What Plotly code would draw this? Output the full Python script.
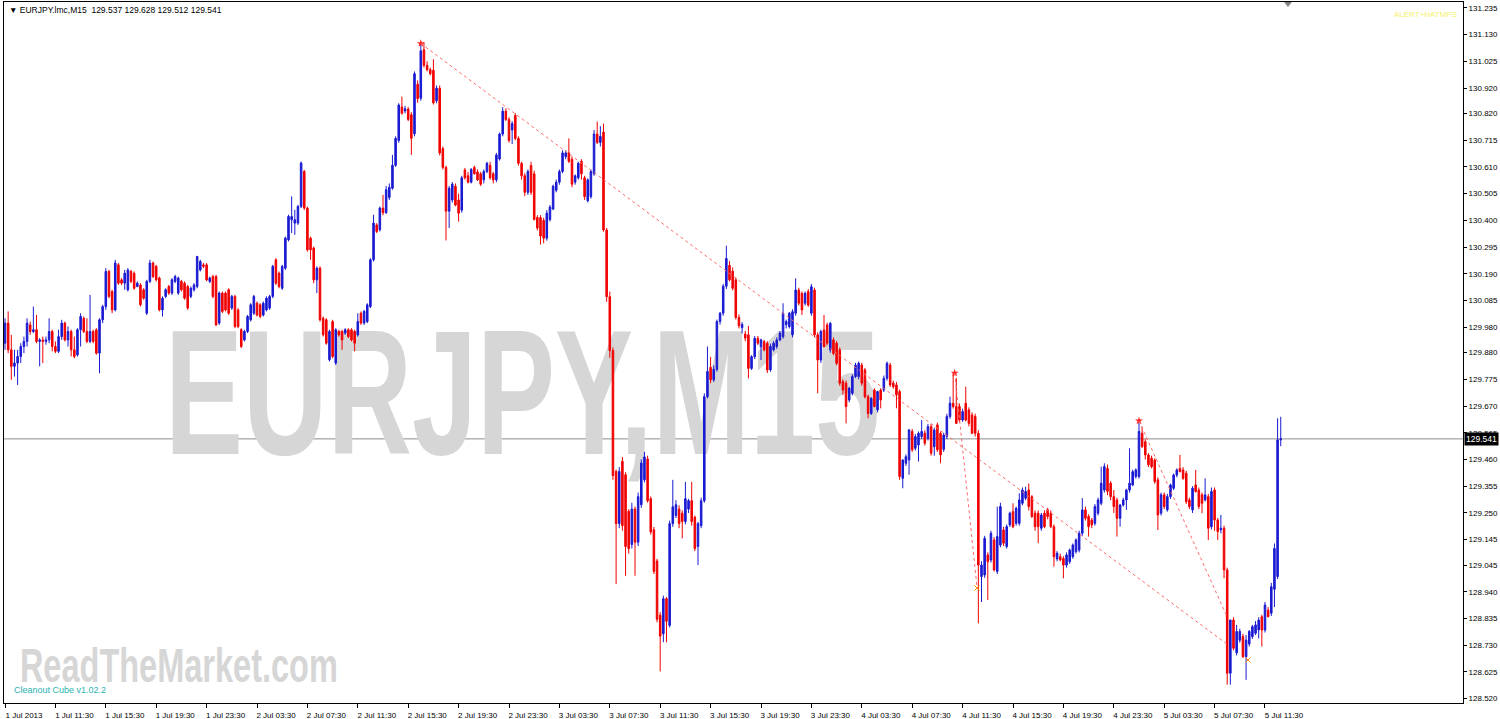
import plotly.graph_objects as go

# ---------------- data (EURJPY M15, bars from 1 Jul 2013 07:30) ----------------
bar_open = [
 129.917,129.996,129.891,129.826,129.839,129.865,129.904,129.924,129.989,129.963,
 129.970,129.924,129.930,129.924,129.930,129.963,129.904,129.885,129.943,129.996,
 129.930,129.963,129.891,129.871,129.970,130.015,129.963,129.924,129.963,129.970,
 129.878,130.009,130.061,130.199,130.120,130.048,130.225,130.166,130.153,130.127,
 130.199,130.192,130.140,130.146,130.127,130.035,130.160,130.232,130.219,130.173,
 130.048,130.101,130.140,130.114,130.160,130.114,130.160,130.153,130.140,130.101,
 130.127,130.140,130.205,130.225,130.225,130.160,130.179,130.179,129.996,130.114,
 130.114,130.127,130.055,130.101,130.048,129.970,129.930,129.963,130.009,130.035,
 130.074,130.068,130.028,130.048,130.055,130.101,130.245,130.192,130.133,130.212,
 130.323,130.402,130.389,130.389,130.454,130.592,130.448,130.330,130.291,130.166,
 130.212,130.015,130.009,129.852,130.002,129.839,129.963,129.963,129.957,129.970,
 129.970,129.963,129.950,130.035,129.996,130.002,130.061,130.245,130.382,130.363,
 130.448,130.430,130.490,130.526,130.616,130.714,130.845,130.830,130.837,130.815,
 130.740,130.935,130.880,131.070,131.009,130.992,130.990,130.870,130.919,130.682,
 130.608,130.436,130.480,130.534,130.480,130.440,130.598,130.575,130.550,130.608,
 130.590,130.583,130.559,130.592,130.616,130.583,130.559,130.641,130.739,130.829,
 130.796,130.755,130.812,130.722,130.624,130.575,130.510,130.615,130.583,130.411,
 130.411,130.400,130.330,130.403,130.444,130.518,130.550,130.592,130.650,130.665,
 130.640,130.550,130.567,130.632,130.567,130.477,130.493,130.583,130.739,130.706,
 130.747,130.362,130.100,129.888,129.413,129.208,129.453,129.400,129.257,129.126,
 129.265,129.135,129.282,129.380,129.462,129.306,129.184,129.061,128.848,128.775,
 128.913,128.808,129.208,129.240,129.265,129.249,129.216,129.265,129.298,129.233,
 129.118,129.200,129.298,129.707,129.822,129.773,129.814,130.002,130.035,130.141,
 130.223,130.200,130.166,130.018,129.978,129.953,129.950,129.818,129.864,129.936,
 129.903,129.923,129.917,129.812,129.891,129.904,129.930,129.943,129.990,129.982,
 129.950,130.035,130.126,130.113,130.074,130.120,130.035,130.126,129.950,129.851,
 129.969,129.989,129.891,129.930,129.917,129.891,129.766,129.760,129.694,129.720,
 129.786,129.786,129.831,129.812,129.707,129.641,129.733,129.655,129.733,129.733,
 129.779,129.831,129.760,129.753,129.727,129.386,129.445,129.458,129.570,129.504,
 129.517,129.550,129.563,129.543,129.589,129.510,129.596,129.563,129.500,129.550,
 129.629,129.681,129.668,129.668,129.615,129.681,129.655,129.635,129.629,129.563,
 129.000,129.006,129.085,129.065,129.144,129.020,129.124,129.183,129.118,129.203,
 129.255,129.209,129.209,129.288,129.308,129.340,129.314,129.249,129.249,129.190,
 129.249,129.262,129.249,129.196,129.069,129.078,129.071,129.045,129.058,129.078,
 129.098,129.104,129.170,129.262,129.236,129.222,129.209,129.249,129.288,129.340,
 129.425,129.367,129.314,129.301,129.229,129.281,129.301,129.340,129.360,129.393,
 129.393,129.563,129.530,129.478,129.465,129.458,129.380,129.249,129.321,129.262,
 129.314,129.347,129.399,129.425,129.419,129.406,129.301,129.262,129.360,129.340,
 129.321,129.301,129.314,129.196,129.340,129.222,129.184,129.190,129.026,128.620,
 128.829,128.700,128.750,128.764,128.685,128.735,128.764,128.777,128.790,128.842,
 128.790,128.868,128.856,128.950,129.000,129.537]

bar_high = [
 130.015,130.042,129.950,129.891,129.891,129.917,129.943,130.015,130.002,130.061,
 130.028,129.937,129.943,129.943,130.015,129.970,129.924,129.970,130.009,130.002,
 129.983,129.970,129.943,129.976,130.035,130.022,130.015,130.107,129.970,129.976,
 130.015,130.068,130.212,130.205,130.127,130.245,130.232,130.173,130.205,130.212,
 130.205,130.199,130.160,130.153,130.133,130.166,130.245,130.238,130.225,130.179,
 130.101,130.133,130.146,130.173,130.186,130.179,130.166,130.160,130.146,130.140,
 130.153,130.260,130.245,130.232,130.232,130.179,130.186,130.186,130.120,130.120,
 130.120,130.133,130.107,130.107,130.055,129.976,129.970,130.028,130.074,130.107,
 130.081,130.074,130.081,130.101,130.107,130.225,130.251,130.199,130.225,130.336,
 130.422,130.494,130.441,130.461,130.631,130.598,130.454,130.336,130.297,130.219,
 130.219,130.022,130.015,129.970,130.009,129.976,129.970,129.970,129.976,129.976,
 129.976,129.970,130.035,130.042,130.048,130.074,130.251,130.422,130.389,130.454,
 130.500,130.535,130.545,130.657,130.730,130.860,130.886,130.850,130.845,130.825,
 130.985,130.950,131.095,131.100,131.025,131.000,131.033,130.930,130.930,130.690,
 130.615,130.535,130.550,130.545,130.505,130.575,130.606,130.590,130.605,130.615,
 130.600,130.590,130.600,130.630,130.630,130.590,130.665,130.745,130.845,130.840,
 130.805,130.790,130.821,130.730,130.630,130.585,130.600,130.630,130.595,130.420,
 130.420,130.410,130.440,130.460,130.540,130.560,130.600,130.675,130.675,130.722,
 130.650,130.580,130.630,130.640,130.575,130.565,130.600,130.755,130.788,130.770,
 130.780,130.370,130.120,129.900,129.420,129.430,129.470,129.410,129.265,129.290,
 129.275,129.330,129.460,129.490,129.475,129.315,129.195,129.070,128.860,128.925,
 128.920,129.220,129.380,129.300,129.280,129.260,129.372,129.305,129.372,129.240,
 129.215,129.310,129.720,129.904,129.863,129.830,130.010,130.040,130.150,130.300,
 130.240,130.215,130.175,130.030,130.000,129.965,129.985,129.870,129.945,129.945,
 129.935,129.930,129.925,129.915,129.925,129.940,129.965,130.074,130.010,130.040,
 130.050,130.172,130.135,130.120,130.120,130.130,130.150,130.135,129.960,129.970,
 130.028,129.998,130.000,129.940,129.925,129.900,129.775,129.770,129.745,129.795,
 129.840,129.845,129.840,129.820,129.715,129.705,129.740,129.730,129.740,129.790,
 129.845,129.840,129.770,129.765,129.735,129.460,129.480,129.580,129.580,129.560,
 129.570,129.615,129.575,129.600,129.600,129.585,129.605,129.570,129.565,129.640,
 129.707,129.800,129.780,129.680,129.660,129.746,129.665,129.645,129.640,129.575,
 129.060,129.160,129.095,129.180,129.155,129.275,129.290,129.195,129.205,129.255,
 129.288,129.275,129.327,129.350,129.353,129.366,129.320,129.260,129.260,129.250,
 129.260,129.270,129.260,129.205,129.100,129.090,129.080,129.095,129.110,129.130,
 129.150,129.180,129.308,129.275,129.245,129.230,129.285,129.310,129.432,129.445,
 129.440,129.375,129.340,129.310,129.285,129.310,129.345,129.504,129.420,129.425,
 129.610,129.589,129.540,129.485,129.475,129.465,129.390,129.330,129.330,129.325,
 129.365,129.405,129.425,129.478,129.430,129.415,129.310,129.355,129.419,129.350,
 129.330,129.386,129.325,129.350,129.350,129.230,129.242,129.200,129.035,128.830,
 128.840,128.810,128.795,128.775,128.770,128.790,128.810,128.825,128.840,128.850,
 128.900,128.880,128.975,129.130,129.622,129.628]

bar_low = [
 129.891,129.878,129.773,129.786,129.753,129.839,129.878,129.904,129.950,129.957,
 129.917,129.826,129.839,129.911,129.917,129.885,129.878,129.878,129.930,129.924,
 129.904,129.865,129.858,129.865,129.904,129.957,129.917,129.917,129.917,129.872,
 129.799,129.996,130.048,130.094,130.035,130.042,130.146,130.146,130.127,130.120,
 130.153,130.127,130.137,130.061,130.088,130.028,130.153,130.173,130.160,130.042,
 130.022,130.094,130.107,130.107,130.153,130.107,130.120,130.088,130.048,130.094,
 130.120,130.133,130.199,130.212,130.160,130.153,130.094,129.985,129.989,130.035,
 130.042,130.028,130.048,129.976,129.976,129.898,129.924,129.957,130.002,130.028,
 130.022,130.015,130.022,130.042,130.048,130.094,130.146,130.133,130.127,130.205,
 130.317,130.350,130.343,130.382,130.448,130.441,130.277,130.245,130.153,130.114,
 130.002,129.943,129.911,129.845,129.858,129.832,129.943,129.891,129.950,129.937,
 129.924,129.885,129.943,129.989,129.989,129.996,130.055,130.238,130.350,130.356,
 130.420,130.425,130.480,130.520,130.610,130.705,130.815,130.820,130.790,130.657,
 130.730,130.862,130.870,131.000,130.985,130.970,130.855,130.860,130.655,130.600,
 130.321,130.370,130.470,130.455,130.395,130.430,130.560,130.545,130.545,130.580,
 130.555,130.535,130.545,130.585,130.560,130.545,130.550,130.635,130.730,130.790,
 130.705,130.700,130.715,130.615,130.560,130.495,130.500,130.500,130.400,130.360,
 130.305,130.310,130.320,130.395,130.440,130.510,130.540,130.585,130.640,130.625,
 130.530,130.540,130.560,130.560,130.480,130.470,130.485,130.575,130.700,130.690,
 130.355,130.080,129.860,129.380,128.970,129.190,129.180,129.003,129.090,129.110,
 129.003,129.120,129.270,129.370,129.290,129.165,129.010,128.820,128.627,128.742,
 128.742,128.800,129.195,129.230,129.190,129.150,129.205,129.250,129.200,129.100,
 129.045,129.190,129.290,129.700,129.760,129.765,129.805,129.990,130.025,130.130,
 130.160,130.125,130.010,129.975,129.955,129.925,129.779,129.812,129.855,129.910,
 129.851,129.885,129.800,129.805,129.885,129.895,129.925,129.935,129.975,129.975,
 129.940,130.025,130.065,130.028,130.065,130.060,130.025,129.940,129.720,129.840,
 129.900,129.910,129.880,129.870,129.830,129.750,129.714,129.602,129.685,129.712,
 129.780,129.775,129.750,129.700,129.622,129.635,129.665,129.645,129.661,129.725,
 129.770,129.745,129.738,129.661,129.380,129.347,129.435,129.400,129.490,129.495,
 129.452,129.540,129.515,129.535,129.475,129.475,129.490,129.445,129.490,129.540,
 129.620,129.660,129.600,129.605,129.608,129.610,129.590,129.560,129.550,128.816,
 128.900,128.995,128.908,129.055,129.020,129.010,129.115,129.120,129.110,129.195,
 129.190,129.200,129.200,129.280,129.300,129.260,129.230,129.180,129.131,129.180,
 129.190,129.225,129.190,129.039,129.060,129.060,128.993,129.035,129.050,129.070,
 129.090,129.095,129.160,129.220,129.157,129.190,129.200,129.240,129.280,129.330,
 129.320,129.300,129.250,129.157,129.196,129.275,129.262,129.330,129.355,129.385,
 129.385,129.505,129.460,129.430,129.425,129.365,129.183,129.240,129.265,129.255,
 129.305,129.340,129.390,129.410,129.380,129.285,129.265,129.250,129.330,129.265,
 129.249,129.295,129.144,129.185,129.180,129.144,129.170,128.993,128.575,128.575,
 128.710,128.690,128.740,128.680,128.594,128.725,128.755,128.770,128.757,128.725,
 128.780,128.840,128.845,128.880,128.990,129.512]

bar_close = [
 129.996,129.891,129.826,129.839,129.865,129.904,129.924,129.996,129.963,129.970,
 129.924,129.930,129.924,129.930,129.963,129.904,129.885,129.943,129.996,129.930,
 129.963,129.891,129.865,129.970,130.022,129.963,129.924,129.963,129.924,129.878,
 130.009,130.061,130.199,130.101,130.048,130.232,130.153,130.153,130.192,130.205,
 130.160,130.133,130.153,130.068,130.094,130.160,130.232,130.179,130.166,130.048,
 130.094,130.127,130.114,130.166,130.179,130.173,130.127,130.094,130.055,130.133,
 130.146,130.258,130.238,130.219,130.166,130.173,130.101,129.989,130.114,130.042,
 130.048,130.035,130.101,129.983,129.983,129.904,129.963,130.022,130.068,130.101,
 130.028,130.022,130.074,130.094,130.101,130.219,130.153,130.140,130.219,130.330,
 130.415,130.415,130.402,130.454,130.625,130.448,130.284,130.284,130.166,130.212,
 130.009,129.950,129.917,129.963,129.865,129.970,129.950,129.930,129.970,129.943,
 129.930,129.917,130.002,129.996,130.042,130.068,130.245,130.389,130.356,130.448,
 130.430,130.520,130.530,130.616,130.722,130.853,130.821,130.838,130.796,130.722,
 130.976,130.878,131.066,131.009,130.992,130.976,130.862,130.919,130.665,130.608,
 130.436,130.526,130.542,130.460,130.428,130.567,130.567,130.550,130.600,130.583,
 130.559,130.542,130.592,130.624,130.567,130.559,130.657,130.739,130.829,130.796,
 130.714,130.780,130.722,130.624,130.575,130.510,130.592,130.510,130.403,130.370,
 130.338,130.330,130.428,130.452,130.534,130.550,130.592,130.665,130.665,130.632,
 130.542,130.575,130.624,130.583,130.493,130.559,130.592,130.739,130.706,130.730,
 130.362,130.100,129.888,129.397,129.208,129.413,129.200,129.118,129.110,129.265,
 129.135,129.314,129.446,129.470,129.298,129.175,129.020,128.832,128.766,128.913,
 128.824,129.208,129.274,129.282,129.208,129.216,129.306,129.298,129.216,129.110,
 129.208,129.298,129.707,129.806,129.773,129.814,130.002,130.035,130.141,130.250,
 130.166,130.133,130.018,129.986,129.991,129.937,129.818,129.864,129.936,129.917,
 129.930,129.891,129.812,129.904,129.917,129.930,129.956,130.035,130.002,130.035,
 130.041,130.126,130.074,130.048,130.113,130.067,130.139,129.950,129.851,129.963,
 129.904,129.917,129.995,129.877,129.838,129.760,129.733,129.668,129.740,129.786,
 129.831,129.838,129.760,129.707,129.641,129.700,129.668,129.727,129.694,129.779,
 129.838,129.753,129.746,129.714,129.393,129.458,129.471,129.576,129.498,129.550,
 129.563,129.570,129.524,129.589,129.485,129.576,129.498,129.478,129.556,129.629,
 129.681,129.668,129.602,129.615,129.648,129.615,129.602,129.563,129.563,129.045,
 129.045,129.150,129.058,129.170,129.026,129.157,129.275,129.131,129.196,129.249,
 129.196,129.268,129.301,129.340,129.334,129.275,129.236,129.196,129.196,129.242,
 129.196,129.236,129.196,129.078,129.092,129.065,129.045,129.085,129.104,129.124,
 129.144,129.170,129.262,129.229,129.196,129.203,129.275,129.301,129.367,129.432,
 129.335,129.314,129.275,129.229,129.281,129.301,129.340,129.367,129.412,129.419,
 129.570,129.511,129.478,129.439,129.432,129.373,129.242,129.321,129.275,129.314,
 129.360,129.399,129.419,129.412,129.386,129.294,129.275,129.347,129.334,129.275,
 129.288,129.321,129.190,129.334,129.222,129.177,129.190,129.026,128.620,128.829,
 128.718,128.784,128.784,128.685,128.750,128.784,128.803,128.810,128.829,128.790,
 128.888,128.842,128.960,129.110,129.537,129.541]

assert len(bar_open) == len(bar_high) == len(bar_low) == len(bar_close), (
    len(bar_open), len(bar_high), len(bar_low), len(bar_close))

# x-axis labels every 16 bars (4 hours)
time_labels = [
 "1 Jul 2013", "1 Jul 11:30", "1 Jul 15:30", "1 Jul 19:30", "1 Jul 23:30",
 "2 Jul 03:30", "2 Jul 07:30", "2 Jul 11:30", "2 Jul 15:30", "2 Jul 19:30",
 "2 Jul 23:30", "3 Jul 03:30", "3 Jul 07:30", "3 Jul 11:30", "3 Jul 15:30",
 "3 Jul 19:30", "3 Jul 23:30", "4 Jul 03:30", "4 Jul 07:30", "4 Jul 11:30",
 "4 Jul 15:30", "4 Jul 19:30", "4 Jul 23:30", "5 Jul 03:30", "5 Jul 07:30",
 "5 Jul 11:30"]
bars_per_label = 16

price_ticks = [131.235, 131.130, 131.025, 130.920, 130.820, 130.715, 130.610,
               130.505, 130.400, 130.295, 130.190, 130.085, 129.980, 129.880,
               129.775, 129.670, 129.565, 129.460, 129.355, 129.250, 129.145,
               129.045, 128.940, 128.835, 128.730, 128.625, 128.520]

last_price = 129.541
header_text = "\u25BC EURJPY.lmc,M15  129.537 129.628 129.512 129.541"

# dashed trend lines (bar index, price)
trend_x0 = [132.0, 301.5, 360.0]
trend_y0 = [131.095, 129.800, 129.612]
trend_x1 = [388.3, 308.6, 388.0]
trend_y1 = [128.731, 128.955, 128.841]

# ---------------- figure ----------------
BLUE = "#1a1ad2"
RED = "#f00000"
n = len(bar_open)
xs = list(range(n))

fig = go.Figure()
fig.add_trace(go.Candlestick(
    x=xs, open=bar_open, high=bar_high, low=bar_low, close=bar_close,
    increasing=dict(line=dict(color=BLUE, width=1), fillcolor=BLUE),
    decreasing=dict(line=dict(color=RED, width=1), fillcolor=RED),
    whiskerwidth=0, showlegend=False, hoverinfo="skip"))

# trend line start markers
fig.add_trace(go.Scatter(
    x=trend_x0, y=trend_y0, mode="markers",
    marker=dict(symbol="star", size=6, color="#ff2020"),
    showlegend=False, hoverinfo="skip"))
fig.add_trace(go.Scatter(
    x=[trend_x1[1], 394.6], y=[trend_y1[1], 128.672], mode="markers",
    marker=dict(symbol="x-thin", size=5, color="#ff8c00", line=dict(width=1, color="#ff8c00")),
    showlegend=False, hoverinfo="skip"))
# chart-shift marker at top
fig.add_trace(go.Scatter(
    x=[407.3], y=[131.252], mode="markers",
    marker=dict(symbol="triangle-down", size=7, color="#808080"),
    showlegend=False, hoverinfo="skip", cliponaxis=False))

WM_FONT = "Liberation Sans, Arial, sans-serif"
shapes = []
# big watermark behind the candles
shapes.append(dict(type="rect", xref="x", yref="y", x0=140.0, x1=188.6,
                   y0=129.70, y1=129.88, line=dict(width=0),
                   fillcolor="rgba(0,0,0,0)", layer="below",
                   label=dict(text="EURJPY,M15", textposition="middle center",
                              font=dict(size=178, color="#d6d6d6",
                                        family=WM_FONT, weight="bold"))))
# site watermark bottom-left
shapes.append(dict(type="rect", xref="x", yref="y", x0=50.0, x1=60.4,
                   y0=128.65, y1=128.69, line=dict(width=0),
                   fillcolor="rgba(0,0,0,0)", layer="below",
                   label=dict(text="ReadTheMarket.com", textposition="middle center",
                              font=dict(size=48, color="#d6d6d6",
                                        family=WM_FONT, weight="bold"))))
# last price line
shapes.append(dict(type="line", xref="paper", yref="y", x0=0, x1=1,
                   y0=last_price, y1=last_price, layer="below",
                   line=dict(color="#8c8c8c", width=1)))
for a, b, c, d in zip(trend_x0, trend_y0, trend_x1, trend_y1):
    shapes.append(dict(type="line", xref="x", yref="y", x0=a, y0=b, x1=c, y1=d,
                       line=dict(color="#ff6a6a", width=1, dash="dot")))

annotations = [
    dict(text=header_text, xref="paper", yref="paper", x=0, y=1,
         xanchor="left", yanchor="top", xshift=3, yshift=-1, showarrow=False,
         font=dict(size=8.5, color="#000000")),
    dict(text="ALERT+HATMPS", xref="paper", yref="paper", x=1, y=1,
         xanchor="right", yanchor="top", xshift=-4, yshift=-6, showarrow=False,
         font=dict(size=8, color="#f5f06a")),
    dict(text=f"{last_price:.3f}", xref="paper", yref="y", x=1, y=last_price,
         xanchor="left", yanchor="middle", xshift=1, showarrow=False,
         bgcolor="#000000", borderpad=1, font=dict(size=8.5, color="#ffffff")),
    dict(text="Cleanout Cube v1.02.2", xref="paper", yref="paper", x=0.0055, y=0.0185,
         xanchor="left", yanchor="middle", showarrow=False,
         font=dict(size=9, color="#2ab3b0")),
]

fig.update_layout(
    width=1500, height=719,
    margin=dict(l=4, r=37, t=2, b=16, pad=0, autoexpand=False),
    paper_bgcolor="#ffffff", plot_bgcolor="#ffffff",
    font=dict(family="Liberation Sans, Arial, sans-serif", size=8, color="#000000"),
    showlegend=False,
    shapes=shapes, annotations=annotations,
    xaxis=dict(
        range=[-0.32, 462.86], rangeslider=dict(visible=False),
        tickmode="array",
        tickvals=[i * bars_per_label for i in range(len(time_labels))],
        ticktext=time_labels, ticks="outside", ticklen=4, tickcolor="#000000",
        ticklabelshift=19, ticklabelstandoff=0,
        showgrid=False, zeroline=False, showline=True, linecolor="#000000",
        linewidth=1, mirror=True, tickfont=dict(size=8)),
    yaxis=dict(
        range=[128.503, 131.258], side="right",
        tickmode="array", tickvals=price_ticks,
        ticktext=[f"{v:.3f}" for v in price_ticks],
        ticks="outside", ticklen=3, tickcolor="#000000",
        showgrid=False, zeroline=False, showline=True, linecolor="#000000",
        linewidth=1, mirror=True, tickfont=dict(size=8)),
)

# page styling: no body margin; condense the two watermark texts to their widths
post_js = """
document.body.style.margin = '0px';
document.body.style.overflow = 'hidden';
var gd = document.getElementById('{plot_id}');
var widths = {'EURJPY,M15': 715, 'ReadTheMarket.com': 318};
gd.querySelectorAll('text').forEach(function (t) {
  var w = widths[t.textContent];
  if (w) {
    t.setAttribute('textLength', String(w));
    t.setAttribute('lengthAdjust', 'spacingAndGlyphs');
  }
});
"""

fig.write_html("out.html", post_script=post_js,
               config={"displayModeBar": False, "staticPlot": True})
